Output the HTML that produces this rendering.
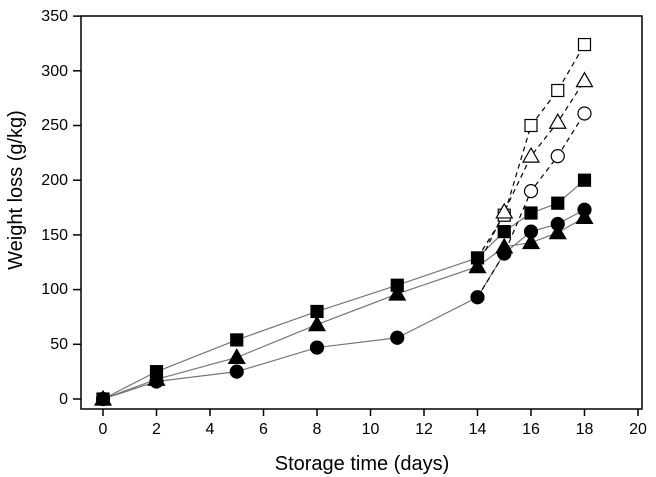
<!DOCTYPE html>
<html><head><meta charset="utf-8"><style>
html,body{margin:0;padding:0;background:#fff;}
svg{display:block;font-family:"Liberation Sans",Arial,sans-serif;}
</style></head><body>
<svg id="s" width="656" height="477" viewBox="0 0 656 477" xmlns="http://www.w3.org/2000/svg">
<rect x="81" y="16" width="561" height="393" fill="none" stroke="#000" stroke-width="1.5"/>
<g font-size="16" text-anchor="end" fill="#000">
<text x="68" y="404">0</text>
<text x="68" y="349">50</text>
<text x="68" y="294">100</text>
<text x="68" y="240">150</text>
<text x="68" y="185">200</text>
<text x="68" y="130">250</text>
<text x="68" y="76">300</text>
<text x="68" y="21">350</text>
</g>
<g font-size="16" text-anchor="middle" fill="#000">
<text x="103" y="434">0</text><text x="156.5" y="434">2</text><text x="210" y="434">4</text>
<text x="263.5" y="434">6</text><text x="317" y="434">8</text><text x="370.5" y="434">10</text>
<text x="424" y="434">12</text><text x="477.5" y="434">14</text><text x="531" y="434">16</text>
<text x="584.5" y="434">18</text><text x="638" y="434">20</text>
</g>
<text x="362" y="470" font-size="20" text-anchor="middle">Storage time (days)</text>
<text transform="translate(22,190) rotate(-90)" font-size="20" text-anchor="middle">Weight loss (g/kg)</text>
<g id="g"></g>
</svg>
<script>
var g=document.getElementById('g'),h='';
function X(d){return 103+d*26.75;}function Y(v){return 399-v*1.094;}
for(var v=0;v<=350;v+=50)h+='<line x1="73" x2="81" y1="'+Y(v)+'" y2="'+Y(v)+'" stroke="#000" stroke-width="1.5"/>';
for(var d=0;d<=20;d+=2)h+='<line y1="409" y2="416" x1="'+X(d)+'" x2="'+X(d)+'" stroke="#000" stroke-width="1.5"/>';
var D=[0,2,5,8,11,14,15,16,17,18],D2=[15,16,17,18];
var fs=[0,25,54,80,104,129,153,170,179,200],ft=[0,18,38,68,96,121,139,143,152,166],fc=[0,16,25,47,56,93,133,153,160,173];
var os=[168,250,282,324],ot=[171,222,253,291],oc=[133,190,222,261];
function line(xs,ys,dash){var p=xs.map(function(d,i){return X(d)+','+Y(ys[i]);}).join(' ');
h+='<polyline points="'+p+'" fill="none" stroke="'+(dash?'#000':'#777')+'" stroke-width="1.2"'+(dash?' stroke-dasharray="5,4"':'')+'/>';}
line(D,fs);line(D,ft);line(D,fc);
line([14].concat(D2),[129].concat(os),1);line([14].concat(D2),[121].concat(ot),1);line([14].concat(D2),[93].concat(oc),1);
function sq(x,y,f){h+='<rect x="'+(x-6)+'" y="'+(y-6)+'" width="12" height="12" fill="'+(f?'#000':'#fff')+'" stroke="#000" stroke-width="1.2"/>';}
function tr(x,y,f){h+='<polygon points="'+x+','+(y-8)+' '+(x-8)+','+(y+6)+' '+(x+8)+','+(y+6)+'" fill="'+(f?'#000':'#fff')+'" stroke="#000" stroke-width="1.2"/>';}
function ci(x,y,f){h+='<circle cx="'+x+'" cy="'+y+'" r="6.5" fill="'+(f?'#000':'#fff')+'" stroke="#000" stroke-width="1.2"/>';}
D2.forEach(function(d,i){sq(X(d),Y(os[i]),0);tr(X(d),Y(ot[i]),0);ci(X(d),Y(oc[i]),0);});
D.forEach(function(d,i){sq(X(d),Y(fs[i]),1);tr(X(d),Y(ft[i]),1);ci(X(d),Y(fc[i]),1);});
g.innerHTML=h;
</script>
</body></html>
